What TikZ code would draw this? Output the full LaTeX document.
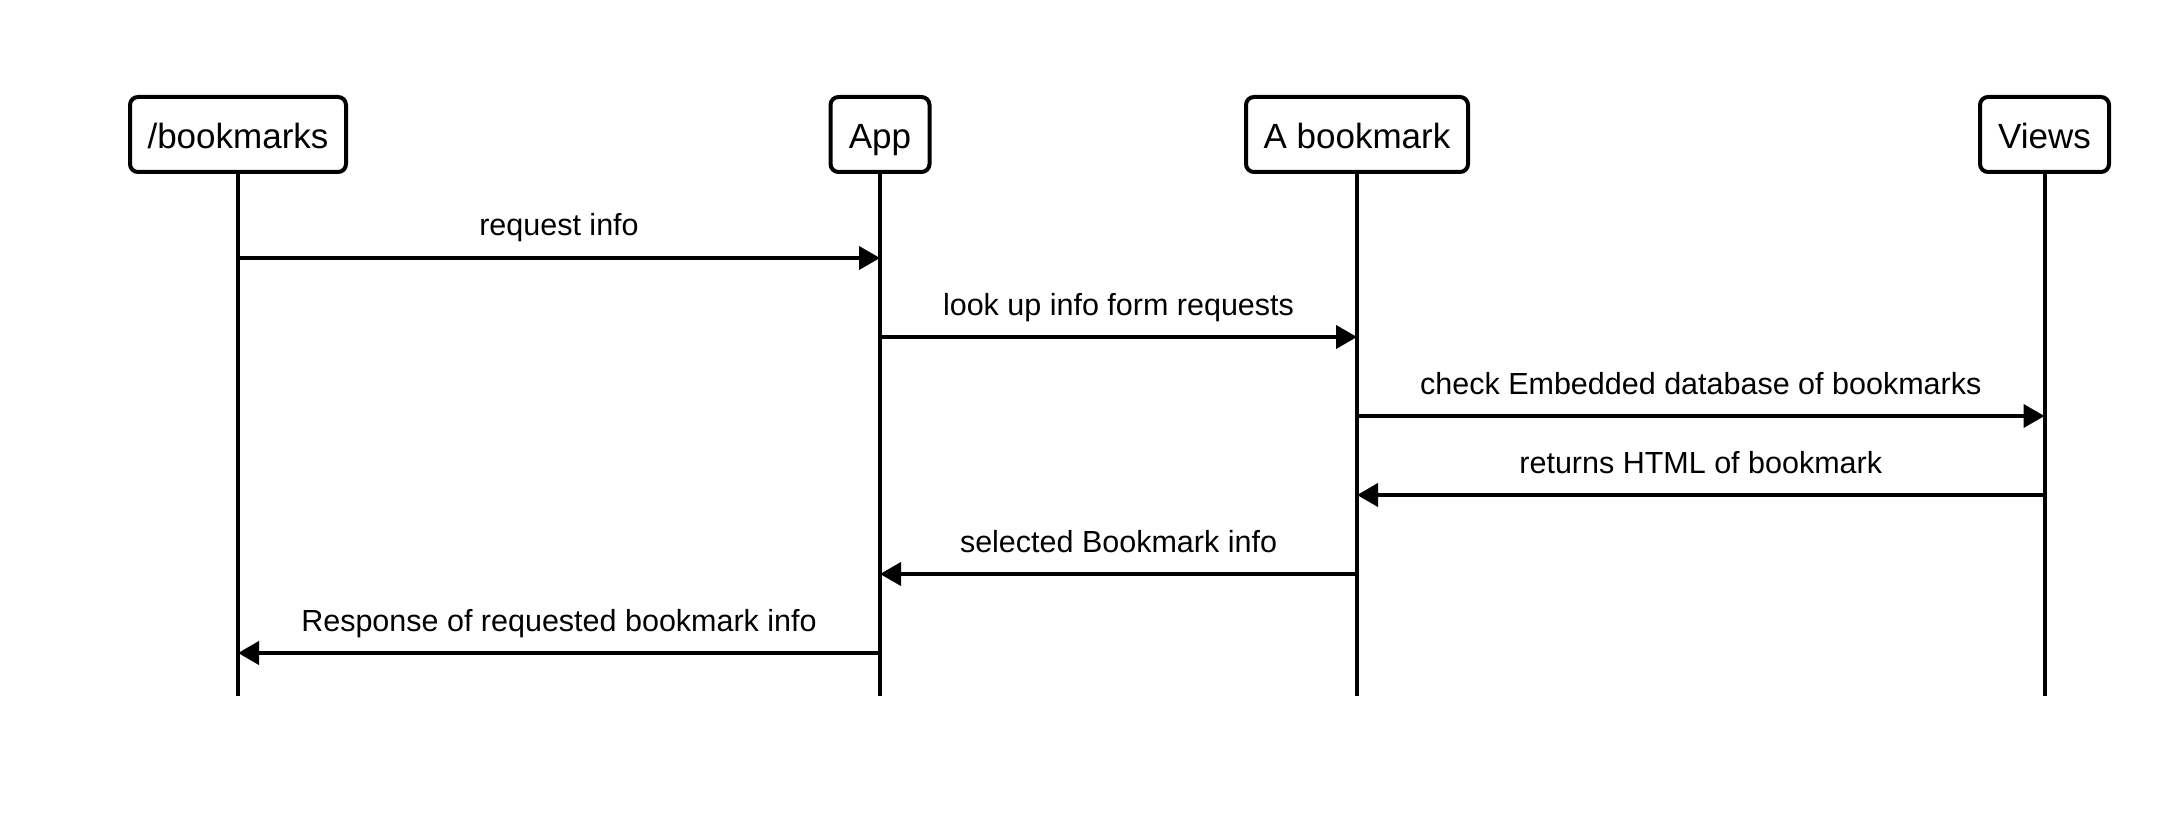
\documentclass[tikz,border=0pt]{standalone}
\usepackage{fontspec}
\setmainfont{Liberation Sans}
\usetikzlibrary{arrows.meta}
\begin{document}
\begin{tikzpicture}[x=1pt,y=-1pt,
  actor/.style={draw, rounded corners=8pt, line width=4pt, minimum height=75pt, inner sep=0pt, text height=31pt, text depth=2pt, font=\fontsize{35}{40}\selectfont},
  life/.style={line width=4pt},
  msg/.style={-{Triangle[length=21pt,width=23pt]}, line width=4pt},
  lbl/.style={font=\fontsize{30.5}{36}\selectfont, anchor=base, yshift=22pt}]
\useasboundingbox (0,0) rectangle (2173,826);
\fill[white] (0,0) rectangle (2173,826);
% actors
\node[actor, minimum width=216pt] (bm) at (238,134.5) {/bookmarks};
\node[actor, minimum width=99pt] (app) at (880,134.5) {App};
\node[actor, minimum width=222pt] (ab) at (1357,134.5) {A bookmark};
\node[actor, minimum width=129pt] (vw) at (2044.5,134.5) {Views};
% lifeline ends
\coordinate (bmE) at (238,696);
\coordinate (appE) at (880,696);
\coordinate (abE) at (1357,696);
\coordinate (vwE) at (2044.5,696);
\draw[life] (bm.south) -- (bmE);
\draw[life] (app.south) -- (appE);
\draw[life] (ab.south) -- (abE);
\draw[life] (vw.south) -- (vwE);
% message points
\coordinate (bm1) at (238,258);   \coordinate (app1) at (880,258);
\coordinate (app2) at (880,337);  \coordinate (ab2) at (1357,337);
\coordinate (ab3) at (1357,416);  \coordinate (vw3) at (2044.5,416);
\coordinate (vw4) at (2044.5,495);\coordinate (ab4) at (1357,495);
\coordinate (ab5) at (1357,574);  \coordinate (app5) at (880,574);
\coordinate (app6) at (880,653);  \coordinate (bm6) at (238,653);
\draw[msg] (bm1) -- node[lbl] {request info} (app1);
\draw[msg] (app2) -- node[lbl] {look up info form requests} (ab2);
\draw[msg] (ab3) -- node[lbl] {check Embedded database of bookmarks} (vw3);
\draw[msg] (vw4) -- node[lbl] {returns HTML of bookmark} (ab4);
\draw[msg] (ab5) -- node[lbl] {selected Bookmark info} (app5);
\draw[msg] (app6) -- node[lbl] {Response of requested bookmark info} (bm6);
\end{tikzpicture}
\end{document}
